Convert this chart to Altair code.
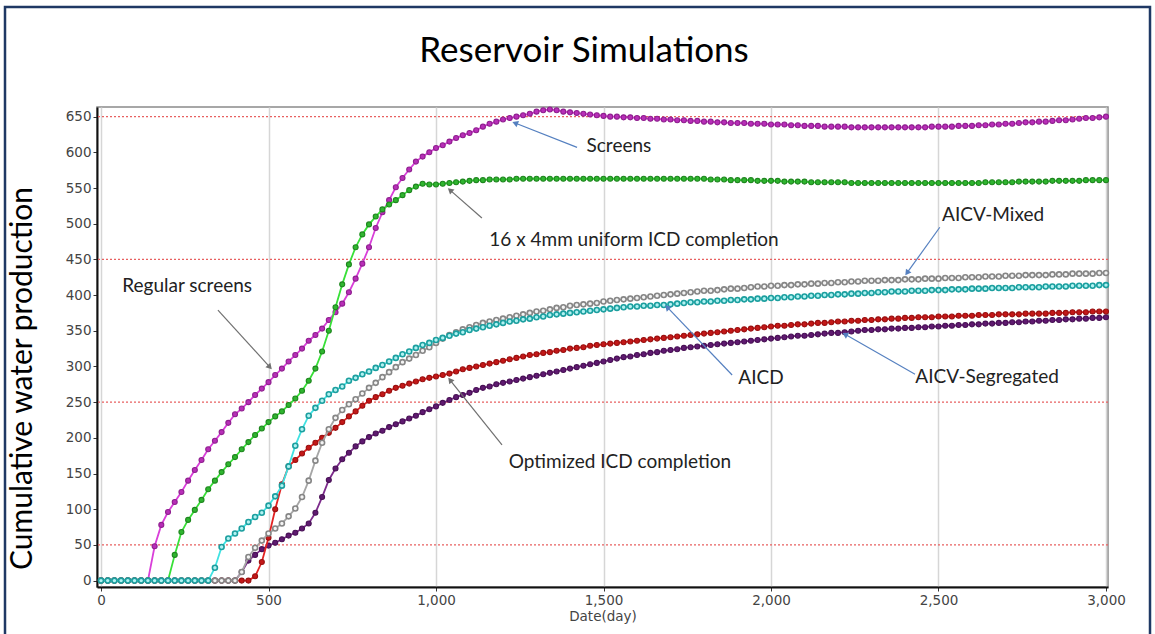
import math
import altair as alt
import pandas as pd

# ---------------- data ----------------
DAYS = list(range(0, 3001, 20))

screens = (
    [0] * 8
    + [48, 78, 96, 110, 124, 140, 155, 169, 184, 196, 208, 221, 233, 241, 250, 260, 269, 278, 288, 297,
       307, 316, 325, 336, 344, 353, 365, 376, 388, 404, 423, 444, 467, 494, 516, 533, 551, 564, 576, 587,
       594, 600, 606]
    + [610, 615, 620, 624, 627, 631, 636, 640, 643, 646, 648, 650, 652, 654, 657, 659, 660, 659, 657, 656,
       655, 654, 653, 652, 651]
    + [650, 650, 649, 649, 648, 648, 647, 647, 646, 646, 645, 645, 644, 644, 643, 643, 642, 642, 641, 641,
       641, 640, 640, 640, 639]
    + [639, 639, 638, 638, 637, 637, 637, 636, 636, 636, 636, 635, 635, 635, 635, 635, 635, 635, 635, 635,
       635, 635, 635, 636, 636]
    + [636, 636, 637, 637, 637, 638, 638, 639, 639, 640, 640, 641, 642, 642, 643, 643, 644, 645, 645, 646,
       647, 648, 648, 649, 650]
)

uniform_icd = (
    [0] * 11
    + [36, 68, 85, 99, 113, 128, 140, 152, 163, 173, 184, 194, 204, 213, 222]
    + [230, 237, 246, 255, 266, 280, 297, 321, 350, 383, 415, 443, 467, 485, 499, 510, 520, 527, 533, 540,
       547, 552, 556, 555, 555]
    + [556, 557, 558, 559, 560, 561, 561, 562, 562, 562, 562, 563] + [563] * 13
    + [563] * 15 + [562, 562, 562, 561, 561, 561, 561, 560, 560, 560]
    + [560, 559, 559, 559, 559, 558, 558, 558, 558, 558, 558, 557] + [557] * 13
    + [557] * 6 + [558, 558, 558, 558, 558, 559, 559, 559, 559, 559, 560, 560, 560, 560, 560, 561, 561,
                   561, 561]
)

aicd = (
    [0] * 17
    + [18, 47, 59, 66, 73, 82, 89, 95, 105]
    + [118, 133, 160, 189, 212, 231, 242, 252, 261, 267, 272, 280, 284, 289, 293, 298, 302, 307, 312, 317,
       321, 326, 330, 333, 337]
    + [340, 343, 346, 348, 351, 353, 355, 357, 359, 361, 363, 364, 366, 367, 369, 370, 372, 373, 374, 375,
       376, 377, 378, 379, 380]
    + [381, 382, 383, 384, 384, 385, 385, 386, 386, 387, 388, 389, 390, 390, 391, 391, 392, 392, 393, 393,
       394, 394, 395, 395, 396]
    + [396, 397, 397, 398, 398, 399, 399, 400, 400, 401, 401, 402, 402, 403, 403, 404, 404, 405, 405, 405,
       406, 406, 406, 407, 407]
    + [407, 408, 408, 408, 409, 409, 409, 410, 410, 410, 410, 411, 411, 411, 411, 412, 412, 412, 412, 413,
       413, 413, 413, 414, 414]
)

aicv_mixed = (
    [0] * 21
    + [12, 33, 46, 56, 66]
    + [73, 80, 90, 101, 117, 140, 168, 193, 212, 228, 239, 247, 254, 262, 270, 277, 285, 292, 299, 306,
       311, 316, 322, 327, 333]
    + [339, 344, 348, 352, 355, 358, 361, 363, 365, 367, 369, 371, 373, 375, 377, 378, 380, 382, 383, 385,
       386, 387, 388, 389, 391]
    + [392, 393, 394, 395, 396, 397, 398, 399, 400, 401, 402, 403, 404, 405, 406, 406, 407, 408, 409, 409,
       410, 411, 412, 412, 413]
    + [413, 414, 414, 415, 415, 416, 416, 417, 417, 418, 418, 419, 419, 420, 420, 420, 421, 421, 421, 422,
       422, 422, 423, 423, 423]
    + [424, 424, 424, 425, 425, 425, 426, 426, 426, 427, 427, 427, 428, 428, 428, 428, 429, 429, 429, 430,
       430, 430, 430, 431, 431]
)

optimized_icd = (
    [0] * 23
    + [6, 26, 60]
    + [100, 135, 160, 169, 178, 186, 193, 200, 207, 214, 222, 230, 237, 245, 252, 257, 261, 266, 270, 273,
       276, 279, 282, 284, 286]
    + [288, 290, 293, 296, 298, 300, 302, 304, 306, 308, 310, 312, 314, 316, 317, 319, 320, 322, 323, 325,
       326, 327, 329, 330, 331]
    + [332, 333, 334, 335, 336, 337, 338, 339, 340, 341, 342, 343, 344, 345, 346, 347, 348, 349, 350, 351,
       352, 353, 354, 355, 356]
    + [357, 357, 358, 359, 359, 360, 361, 361, 362, 363, 363, 364, 364, 365, 365, 366, 366, 367, 367, 368,
       368, 369, 369, 369, 370]
    + [370, 370, 371, 371, 371, 372, 372, 372, 373, 373, 373, 373, 374, 374, 374, 374, 375, 375, 375, 376,
       376, 376, 377, 377, 377]
)

aicv_segregated = (
    [0] * 21
    + [12, 28, 36, 44, 49]
    + [53, 58, 63, 67, 73, 80, 95, 117, 141, 157, 170, 179, 188, 195, 201, 206, 210, 215, 219, 223,
       227, 231, 236, 240, 244]
    + [249, 253, 257, 260, 263, 267, 270, 272, 275, 277, 279, 281, 283, 285, 287, 289, 291, 293, 295, 297,
       299, 301, 303, 305, 307]
    + [309, 311, 313, 314, 316, 317, 319, 320, 322, 323, 324, 326, 327, 328, 329, 330, 331, 332, 333, 334,
       335, 336, 337, 338, 339]
    + [340, 341, 342, 343, 343, 344, 345, 346, 347, 347, 348, 349, 350, 351, 351, 352, 352, 353, 353, 354,
       354, 355, 355, 356, 356]
    + [357, 357, 358, 358, 359, 359, 360, 360, 361, 361, 362, 362, 363, 363, 364, 364, 365, 365, 366, 366,
       367, 367, 368, 368, 369]
)

SERIES_NAMES = ["Screens", "16x4mm ICD", "AICV-Segregated", "Optimized ICD", "AICV-Mixed", "AICD"]
SERIES_VALUES = [screens, uniform_icd, aicv_segregated, optimized_icd, aicv_mixed, aicd]

GRID_RED = [50, 250, 450, 650]
X_TICKS = [0, 500, 1000, 1500, 2000, 2500, 3000]
Y_TICKS = list(range(0, 651, 50))

CHART_TITLE = "Reservoir Simulations"
Y_TITLE = "Cumulative water production"
X_TITLE = "Date(day)"

# annotation labels (data coordinates: day, value)
LABEL_TEXT = ["Screens", "16 x 4mm uniform ICD completion", "Regular screens", "AICV-Mixed",
              "AICD", "AICV-Segregated", "Optimized ICD completion"]
LABEL_DAY = [1546, 1591, 257, 2663, 1970, 2645, 1549]
LABEL_VAL = [609, 477, 413, 512, 284, 285, 166]

# arrows (start -> end, data coordinates) and their kind
ARROW_X1 = [349, 1421, 1137, 2504, 1884, 2430, 1197]
ARROW_Y1 = [379, 607, 508, 495, 288, 289, 190]
ARROW_X2 = [504, 1236, 1042, 2406, 1690, 2221, 1042]
ARROW_Y2 = [299, 641, 547, 431, 383, 345, 281]
ARROW_KIND = ["dark", "blue", "dark", "blue", "blue", "blue", "dark"]

# ---------------- styles ----------------
STYLE = {
    "Screens": dict(line="#d93fd9", fill="#b82eb8", stroke="#8f1f8f", sw=1.1),
    "16x4mm ICD": dict(line="#38e038", fill="#2fb52f", stroke="#1e861e", sw=1.1),
    "AICV-Segregated": dict(line="#7d2c8c", fill="#5f1a70", stroke="#481055", sw=1.1),
    "Optimized ICD": dict(line="#e22222", fill="#c41818", stroke="#991010", sw=1.1),
    "AICV-Mixed": dict(line="#a6a6a6", fill="#f4f4f4", stroke="#868686", sw=1.6),
    "AICD": dict(line="#40e2e2", fill="#b2f2f2", stroke="#1c9f9f", sw=1.6),
}

W, H = 1011, 480
XD = [-12, 3006]
YD = [-9, 663.5]
XS = alt.Scale(domain=XD, nice=False, zero=False)
YS = alt.Scale(domain=YD, nice=False, zero=False)
KX = W / (XD[1] - XD[0])
KY = H / (YD[1] - YD[0])

XAX = alt.Axis(
    values=X_TICKS, labelExpr="format(datum.value, ',')", title=X_TITLE, grid=True,
    gridColor="#d6d6d6", gridWidth=1.5,
    domainColor="#111", domainWidth=2, tickColor="#333", tickSize=4, labelFont="DejaVu Sans",
    labelFontSize=13.5, labelColor="#444", labelPadding=2, labelFlush=False,
    titleFont="DejaVu Sans", titleFontSize=13.5, titleColor="#444", titleFontWeight="normal",
    titlePadding=3,
)
YAX = alt.Axis(
    values=Y_TICKS, labelExpr="format(datum.value, 'd')", grid=False, domainColor="#111", domainWidth=2,
    tickColor="#333", tickSize=4, labelFont="DejaVu Sans", labelFontSize=13.5, labelColor="#444",
    labelPadding=2,
    title=Y_TITLE, titleAngle=270, titleX=-75, titleY=271,
    titleAlign="center", titleBaseline="middle", titleFont="Lato", titleFontSize=30,
    titleColor="#000", titleFontWeight="normal",
)


def xenc(f):
    return alt.X(f, type="quantitative", scale=XS, axis=XAX)


def yenc(f):
    return alt.Y(f, type="quantitative", scale=YS, axis=YAX)


layers = []

# red dotted horizontal lines
red_df = pd.DataFrame({"v": GRID_RED})
layers.append(
    alt.Chart(red_df).mark_rule(color="#e86060", strokeDash=[2, 2], strokeWidth=1.1).encode(y=yenc("v"))
)

# series
for name, vals in zip(SERIES_NAMES, SERIES_VALUES):
    df = pd.DataFrame({"day": DAYS[: len(vals)], "val": vals})
    st = STYLE[name]
    layers.append(
        alt.Chart(df).mark_line(color=st["line"], strokeWidth=1.8).encode(x=xenc("day"), y=yenc("val"))
    )
    layers.append(
        alt.Chart(df)
        .mark_circle(size=25, fill=st["fill"], stroke=st["stroke"], strokeWidth=st["sw"], opacity=1,
                     fillOpacity=1)
        .encode(x=xenc("day"), y=yenc("val"))
    )

# arrows
ang = []
for x1, y1, x2, y2 in zip(ARROW_X1, ARROW_Y1, ARROW_X2, ARROW_Y2):
    dx = (x2 - x1) * KX
    dy = -(y2 - y1) * KY
    ang.append(math.degrees(math.atan2(dx, -dy)) % 360)
arr_df = pd.DataFrame({"x1": ARROW_X1, "y1": ARROW_Y1, "x2": ARROW_X2, "y2": ARROW_Y2,
                       "kind": ARROW_KIND, "ang": ang})
kind_scale = alt.Scale(domain=["blue", "dark"], range=["#5580c0", "#707070"])
head_scale = alt.Scale(domain=["blue", "dark"], range=["#4472c4", "#111111"])
layers.append(
    alt.Chart(arr_df).mark_rule(strokeWidth=1.2).encode(
        x=xenc("x1"), y=yenc("y1"), x2="x2:Q", y2="y2:Q",
        color=alt.Color("kind:N", scale=kind_scale, legend=None),
    )
)
layers.append(
    alt.Chart(arr_df).mark_point(shape="triangle-up", filled=True, size=45, opacity=1).encode(
        x=xenc("x2"), y=yenc("y2"),
        angle=alt.Angle("ang:Q", scale=None),
        color=alt.Color("kind:N", scale=head_scale, legend=None),
    )
)

# annotation labels
lab_df = pd.DataFrame({"t": LABEL_TEXT, "d": LABEL_DAY, "v": LABEL_VAL})
layers.append(
    alt.Chart(lab_df).mark_text(font="Lato", fontSize=19, color="#222", align="center", baseline="middle")
    .encode(x=xenc("d"), y=yenc("v"), text="t:N")
)

# chart title (placed in the top margin)
title_df = pd.DataFrame({"t": [CHART_TITLE]})
layers.append(
    alt.Chart(title_df).mark_text(font="Lato", fontSize=35, color="#000", align="center", baseline="middle")
    .encode(x=alt.value(487), y=alt.value(-56), text="t:N")
)

# outer frame
frame_df = pd.DataFrame({"a": [0]})
layers.append(
    alt.Chart(frame_df).mark_rect(fillOpacity=0, stroke="#1f3864", strokeWidth=2.5).encode(
        x=alt.value(-92), x2=alt.value(1053), y=alt.value(-100), y2=alt.value(533)
    )
)

chart = (
    alt.layer(*layers)
    .properties(
        width=W, height=H,
        autosize=alt.AutoSizeParams(type="none"),
        padding={"left": 97, "top": 107, "right": 47, "bottom": 47},
    )
    .configure(background="white")
    .configure_view(stroke="#8a8a8a", strokeWidth=1.5)
)

chart.save("out.html", embed_options={"renderer": "svg", "actions": False})
